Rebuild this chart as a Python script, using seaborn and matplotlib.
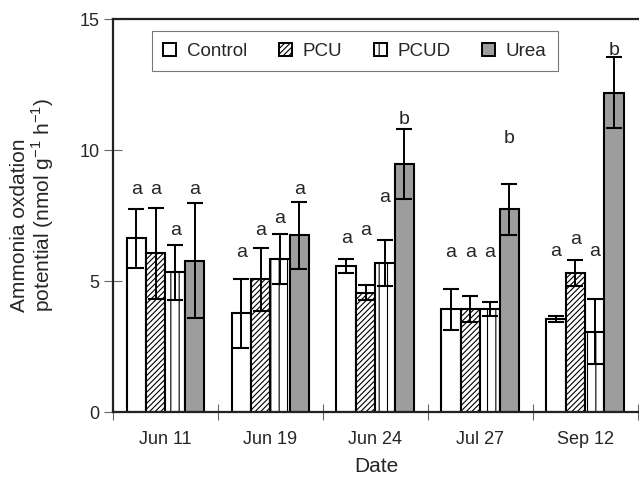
import matplotlib
matplotlib.use('Agg')
import matplotlib.pyplot as plt
from matplotlib.patches import Patch
from matplotlib.ticker import FixedLocator
import seaborn as sns
import pandas as pd

# values
dates = ['Jun 11', 'Jun 19', 'Jun 24', 'Jul 27', 'Sep 12']
treatments = ['Control', 'PCU', 'PCUD', 'Urea']

control = [6.63, 3.77, 5.58, 3.93, 3.55]
pcu = [6.06, 5.06, 4.55, 3.93, 5.32]
pcud = [5.33, 5.83, 5.70, 3.93, 3.07]
urea = [5.78, 6.74, 9.47, 7.74, 12.19]

control_err = [1.13, 1.32, 0.27, 0.78, 0.10]
pcu_err = [1.73, 1.19, 0.29, 0.49, 0.50]
pcud_err = [1.05, 0.95, 0.87, 0.27, 1.25]
urea_err = [2.20, 1.28, 1.34, 0.97, 1.35]

# significance letters and the height they sit at
control_letters = ['a', 'a', 'a', 'a', 'a']
pcu_letters = ['a', 'a', 'a', 'a', 'a']
pcud_letters = ['a', 'a', 'a', 'a', 'a']
urea_letters = ['a', 'a', 'b', 'b', 'b']
control_letter_y = [8.32, 5.92, 6.45, 5.92, 5.95]
pcu_letter_y = [8.32, 6.76, 6.76, 5.92, 6.41]
pcud_letter_y = [6.76, 7.21, 8.03, 5.92, 5.95]
urea_letter_y = [8.32, 8.32, 11.0, 10.27, 13.63]

means = [control, pcu, pcud, urea]
errs = [control_err, pcu_err, pcud_err, urea_err]
letters = [control_letters, pcu_letters, pcud_letters, urea_letters]
letter_y = [control_letter_y, pcu_letter_y, pcud_letter_y, urea_letter_y]

rows = []
for t, vals in zip(treatments, means):
    for d, v in zip(dates, vals):
        rows.append({'Date': d, 'Treatment': t, 'Value': v})
df = pd.DataFrame(rows)

sns.set_style('ticks')
plt.rcParams['font.family'] = ['Liberation Sans', 'DejaVu Sans']
plt.rcParams['hatch.linewidth'] = 0.8

fill = {'Control': 'white', 'PCU': 'white', 'PCUD': 'white', 'Urea': '#9d9d9d'}
hatches = {'Control': '', 'PCU': '//////', 'PCUD': '||', 'Urea': ''}

fig = plt.figure(figsize=(6.39, 4.78), dpi=100)
ax = fig.add_axes([0.1768, 0.138, 0.8232, 0.822])

sns.barplot(data=df, x='Date', y='Value', hue='Treatment', order=dates,
            hue_order=treatments, palette=fill, width=0.74, gap=0,
            edgecolor='black', linewidth=1.5, legend=False, ax=ax)

for i, t in enumerate(treatments):
    cont = ax.containers[i]
    xs = []
    for bar in cont:
        bar.set_hatch(hatches[t])
        bar.set_edgecolor('black')
        xs.append(bar.get_x() + bar.get_width() / 2)
    ax.errorbar(xs, means[i], yerr=errs[i], fmt='none', ecolor='black',
                elinewidth=1.4, capsize=5.5, capthick=1.5, zorder=5)
    for x, ly, lab in zip(xs, letter_y[i], letters[i]):
        ax.text(x, ly, lab, ha='center', va='baseline', fontsize=14)

ax.set_xlim(-0.5, 4.514)
ax.set_ylim(0, 15)
ax.set_yticks([0, 5, 10, 15])
ax.xaxis.set_minor_locator(FixedLocator([-0.5, 0.5, 1.5, 2.5, 3.5, 4.5]))
ax.tick_params(axis='x', which='major', length=0, labelsize=13, pad=14)
ax.tick_params(axis='x', which='minor', direction='inout', length=12,
               width=0.8, color='#666666')
ax.tick_params(axis='y', direction='inout', length=13, width=0.8,
               color='#666666', labelsize=13, pad=3)

for s in ['left', 'top', 'bottom']:
    ax.spines[s].set_linewidth(1.6)
    ax.spines[s].set_color('#222222')
ax.spines['right'].set_visible(False)

ax.set_xlabel('Date', fontsize=15, labelpad=6)
ax.set_ylabel('Ammonia oxdation\npotential (nmol g$^{\\mathregular{-1}}$ h$^{\\mathregular{-1}}$)',
              fontsize=15, linespacing=1.05, multialignment='left')
ax.yaxis.set_label_coords(-0.108, 0.527)

handles = [Patch(facecolor=fill[t], edgecolor='black', hatch=hatches[t],
                 linewidth=1.4) for t in treatments]
leg = ax.legend(handles, treatments, loc='upper left', bbox_to_anchor=(0.074, 0.969),
                ncol=4, fontsize=13.5, frameon=True, fancybox=False,
                edgecolor='#777777', framealpha=1, borderaxespad=0,
                handlelength=0.7, handleheight=0.7, handletextpad=0.55,
                columnspacing=1.7, borderpad=0.6)
leg.get_frame().set_linewidth(0.8)

fig.savefig('out.png', dpi=100)
